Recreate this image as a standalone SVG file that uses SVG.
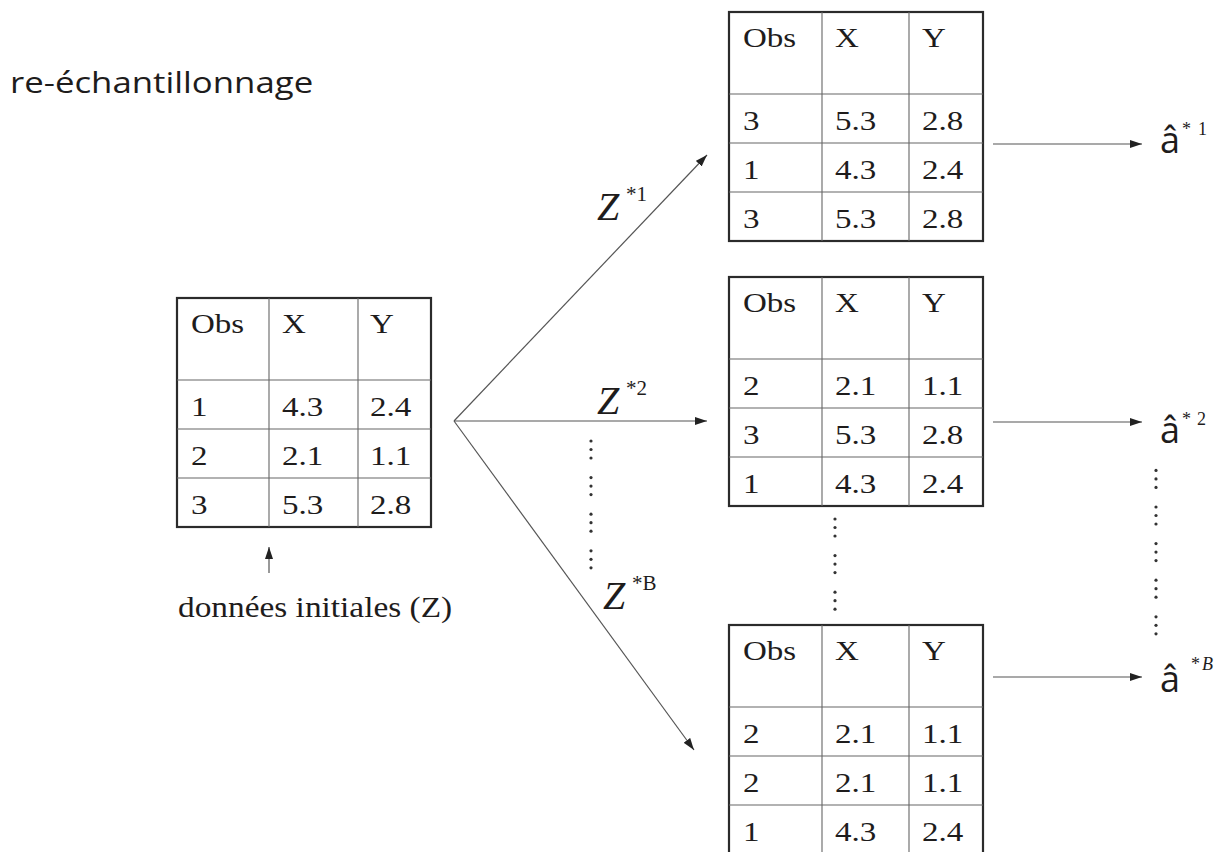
<svg xmlns="http://www.w3.org/2000/svg" xmlns:xlink="http://www.w3.org/1999/xlink" width="1229" height="852" viewBox="0 0 1229 852">
<style>
.tb{fill:#fff;stroke:#2b2b2b;stroke-width:2.2}
.grid{fill:none;stroke:#666;stroke-width:1.1}
.cell{font-family:"Liberation Serif","Times New Roman",serif;font-size:28px;fill:#1e1c1c}
.lab{font-family:"Liberation Serif","Times New Roman",serif;fill:#1e1c1c}
.sans{font-family:"Open Sans","Noto Sans",sans-serif;fill:#1e1c1c}
.conn{stroke:#555;stroke-width:1.2;fill:none;marker-end:url(#ah)}
.dot{fill:#333}
</style>
<defs>
<marker id="ah" markerUnits="userSpaceOnUse" markerWidth="12" markerHeight="8" refX="12" refY="4" orient="auto">
<path d="M0,0 L12,4 L0,8 z" fill="#222"/>
</marker>
<g id="vd">
<circle class="dot" cx="0" cy="0" r="1.6"/>
<circle class="dot" cx="0" cy="8.5" r="1.6"/>
<circle class="dot" cx="0" cy="17" r="1.6"/>
</g>
</defs>
<rect width="1229" height="852" fill="#fff"/>

<g id="title">
<text class="sans" font-size="30" transform="translate(10 93) scale(1.16 1)">re-échantillonnage</text>
</g>

<g id="table-initial" transform="translate(177 298)">
<rect class="tb" width="254" height="229"/>
<path class="grid" d="M92 0V229M181 0V229M0 82H254M0 131H254M0 180H254"/>
<text class="cell" transform="translate(14 35) scale(1.18 1)">Obs</text>
<text class="cell" transform="translate(105 35) scale(1.18 1)">X</text>
<text class="cell" transform="translate(193 35) scale(1.18 1)">Y</text>
<text class="cell" transform="translate(14 118) scale(1.18 1)">1</text>
<text class="cell" transform="translate(105 118) scale(1.18 1)">4.3</text>
<text class="cell" transform="translate(193 118) scale(1.18 1)">2.4</text>
<text class="cell" transform="translate(14 167) scale(1.18 1)">2</text>
<text class="cell" transform="translate(105 167) scale(1.18 1)">2.1</text>
<text class="cell" transform="translate(193 167) scale(1.18 1)">1.1</text>
<text class="cell" transform="translate(14 216) scale(1.18 1)">3</text>
<text class="cell" transform="translate(105 216) scale(1.18 1)">5.3</text>
<text class="cell" transform="translate(193 216) scale(1.18 1)">2.8</text>
</g>

<g id="label-initial">
<text class="lab" font-size="29" transform="translate(178 617) scale(1.15 1)">données initiales (Z)</text>
</g>

<g id="table-1" transform="translate(729 12)">
<rect class="tb" width="254" height="229"/>
<path class="grid" d="M93 0V229M180 0V229M0 82H254M0 131H254M0 180H254"/>
<text class="cell" transform="translate(14 35) scale(1.18 1)">Obs</text>
<text class="cell" transform="translate(106 35) scale(1.18 1)">X</text>
<text class="cell" transform="translate(193 35) scale(1.18 1)">Y</text>
<text class="cell" transform="translate(14 118) scale(1.18 1)">3</text>
<text class="cell" transform="translate(106 118) scale(1.18 1)">5.3</text>
<text class="cell" transform="translate(193 118) scale(1.18 1)">2.8</text>
<text class="cell" transform="translate(14 167) scale(1.18 1)">1</text>
<text class="cell" transform="translate(106 167) scale(1.18 1)">4.3</text>
<text class="cell" transform="translate(193 167) scale(1.18 1)">2.4</text>
<text class="cell" transform="translate(14 216) scale(1.18 1)">3</text>
<text class="cell" transform="translate(106 216) scale(1.18 1)">5.3</text>
<text class="cell" transform="translate(193 216) scale(1.18 1)">2.8</text>
</g>

<g id="table-2" transform="translate(729 277)">
<rect class="tb" width="254" height="229"/>
<path class="grid" d="M93 0V229M180 0V229M0 82H254M0 131H254M0 180H254"/>
<text class="cell" transform="translate(14 35) scale(1.18 1)">Obs</text>
<text class="cell" transform="translate(106 35) scale(1.18 1)">X</text>
<text class="cell" transform="translate(193 35) scale(1.18 1)">Y</text>
<text class="cell" transform="translate(14 118) scale(1.18 1)">2</text>
<text class="cell" transform="translate(106 118) scale(1.18 1)">2.1</text>
<text class="cell" transform="translate(193 118) scale(1.18 1)">1.1</text>
<text class="cell" transform="translate(14 167) scale(1.18 1)">3</text>
<text class="cell" transform="translate(106 167) scale(1.18 1)">5.3</text>
<text class="cell" transform="translate(193 167) scale(1.18 1)">2.8</text>
<text class="cell" transform="translate(14 216) scale(1.18 1)">1</text>
<text class="cell" transform="translate(106 216) scale(1.18 1)">4.3</text>
<text class="cell" transform="translate(193 216) scale(1.18 1)">2.4</text>
</g>

<g id="table-B" transform="translate(729 625)">
<rect class="tb" width="254" height="229"/>
<path class="grid" d="M93 0V229M180 0V229M0 82H254M0 131H254M0 180H254"/>
<text class="cell" transform="translate(14 35) scale(1.18 1)">Obs</text>
<text class="cell" transform="translate(106 35) scale(1.18 1)">X</text>
<text class="cell" transform="translate(193 35) scale(1.18 1)">Y</text>
<text class="cell" transform="translate(14 118) scale(1.18 1)">2</text>
<text class="cell" transform="translate(106 118) scale(1.18 1)">2.1</text>
<text class="cell" transform="translate(193 118) scale(1.18 1)">1.1</text>
<text class="cell" transform="translate(14 167) scale(1.18 1)">2</text>
<text class="cell" transform="translate(106 167) scale(1.18 1)">2.1</text>
<text class="cell" transform="translate(193 167) scale(1.18 1)">1.1</text>
<text class="cell" transform="translate(14 216) scale(1.18 1)">1</text>
<text class="cell" transform="translate(106 216) scale(1.18 1)">4.3</text>
<text class="cell" transform="translate(193 216) scale(1.18 1)">2.4</text>
</g>

<g id="connectors">
<line class="conn" x1="454" y1="421" x2="707" y2="155"/>
<line class="conn" x1="454" y1="421" x2="707" y2="421"/>
<line class="conn" x1="454" y1="421" x2="694" y2="750"/>
<line class="conn" x1="993" y1="144" x2="1142" y2="144"/>
<line class="conn" x1="993" y1="422" x2="1142" y2="422"/>
<line class="conn" x1="993" y1="677" x2="1142" y2="677"/>
<line class="conn" x1="269" y1="573" x2="269" y2="547"/>
</g>

<g id="z-labels">
<text class="lab" x="597" y="220"><tspan font-size="40" font-style="italic">Z</tspan><tspan font-size="21" x="626" y="201">*1</tspan></text>
<text class="lab" x="597" y="414"><tspan font-size="40" font-style="italic">Z</tspan><tspan font-size="21" x="626" y="395">*2</tspan></text>
<text class="lab" x="603" y="609"><tspan font-size="40" font-style="italic">Z</tspan><tspan font-size="21" x="632" y="590">*B</tspan></text>
</g>

<g id="estimates">
<text class="lab" x="1160" y="153"><tspan class="sans" font-size="36">â</tspan><tspan font-size="18" x="1182" y="135">*</tspan><tspan font-size="18" x="1198" y="135">1</tspan></text>
<text class="lab" x="1160" y="443"><tspan class="sans" font-size="36">â</tspan><tspan font-size="18" x="1182" y="425">*</tspan><tspan font-size="18" x="1197" y="425">2</tspan></text>
<text class="lab" x="1160" y="692"><tspan class="sans" font-size="36">â</tspan><tspan font-size="18" x="1191" y="670">*</tspan><tspan font-size="18" font-style="italic" x="1202" y="670">B</tspan></text>
</g>

<g id="ellipses">
<use xlink:href="#vd" x="591" y="441"/>
<use xlink:href="#vd" x="591" y="477.6"/>
<use xlink:href="#vd" x="591" y="514.2"/>
<use xlink:href="#vd" x="591" y="550.8"/>
<use xlink:href="#vd" x="835" y="519"/>
<use xlink:href="#vd" x="835" y="555.6"/>
<use xlink:href="#vd" x="835" y="592.2"/>
<use xlink:href="#vd" x="1156" y="470.4"/>
<use xlink:href="#vd" x="1156" y="507"/>
<use xlink:href="#vd" x="1156" y="543.6"/>
<use xlink:href="#vd" x="1156" y="580.2"/>
<use xlink:href="#vd" x="1156" y="616.8"/>
</g>
</svg>
